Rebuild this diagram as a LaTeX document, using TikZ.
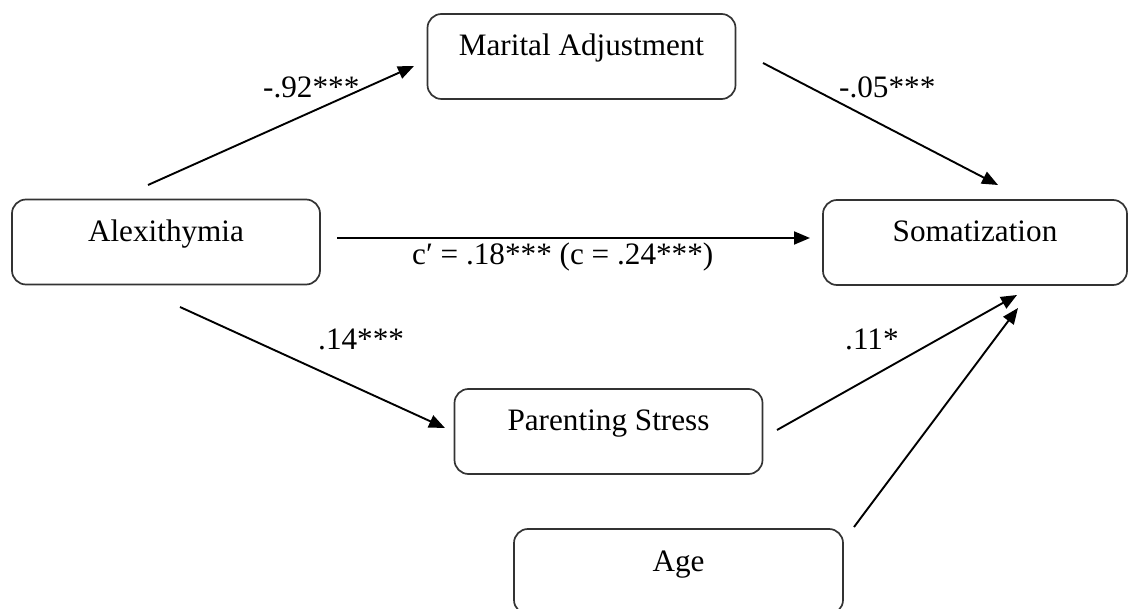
\documentclass[tikz,border=0pt]{standalone}
\usepackage{fontspec}
\setmainfont{Liberation Serif}
\usetikzlibrary{arrows.meta}
\begin{document}
\begin{tikzpicture}[x=1pt,y=-1pt,
  varbox/.style={draw=black!80,line width=1.7pt,rounded corners=14pt,
    minimum width=308pt,minimum height=85pt,inner sep=0pt,
    text height=42pt,text depth=43pt,align=center,
    font=\fontsize{31.2}{37}\selectfont},
  coef/.style={inner sep=0pt,anchor=base west,font=\fontsize{31.2}{37}\selectfont},
  path/.style={line width=1.9pt,-{Triangle[length=16pt,width=13pt]}}]
\useasboundingbox (0,0) rectangle (1128,609);
% variables
\node[varbox] (marital) at (581.5,56.5) {Marital Adjustment};
\node[varbox] (alex) at (166,242) {Alexithymia};
\node[varbox,minimum width=304pt] (soma) at (975,242.5) {Somatization};
\node[varbox] (parent) at (608.5,431.5) {Parenting Stress};
\node[varbox,minimum width=329pt] (age) at (678.5,571.5) {Age};
% arrow end points
\coordinate (alexUp) at (148,185);
\coordinate (maritalIn) at (414,66);
\coordinate (maritalOut) at (763,63);
\coordinate (somaTop) at (998,185);
\coordinate (alexRight) at (337,238);
\coordinate (somaLeft) at (810,238);
\coordinate (alexDown) at (180,307);
\coordinate (parentIn) at (445,428);
\coordinate (parentOut) at (777,430);
\coordinate (somaLow) at (1017,295);
\coordinate (ageOut) at (854,527);
\coordinate (somaLower) at (1018,308);
% paths
\draw[path] (alexUp) -- (maritalIn);
\draw[path] (maritalOut) -- (somaTop);
\draw[path] (alexRight) -- (somaLeft);
\draw[path] (alexDown) -- (parentIn);
\draw[path] (parentOut) -- (somaLow);
\draw[path] (ageOut) -- (somaLower);
% coefficients
\node[coef] (a) at (263,98) {-.92***};
\node[coef] (b) at (839,98) {-.05***};
\node[coef] (c) at (412,265) {c′ = .18*** (c = .24***)};
\node[coef] (d) at (318,350) {.14***};
\node[coef] (e) at (845,350) {.11*};
\end{tikzpicture}
\end{document}
